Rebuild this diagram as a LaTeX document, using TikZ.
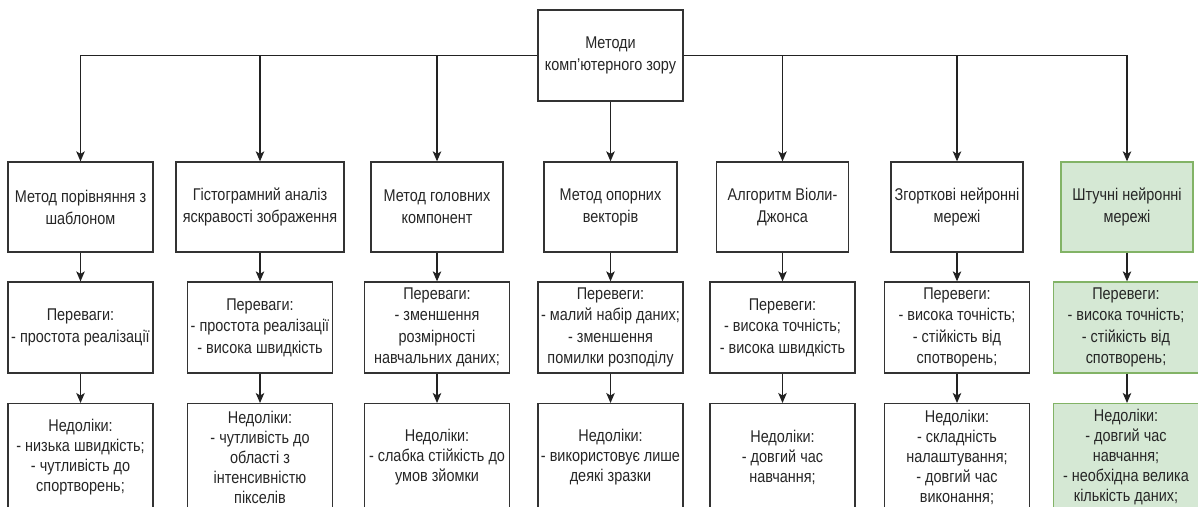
\documentclass[tikz,border=0pt]{standalone}
\usepackage{fontspec}
\setmainfont{Liberation Sans}[FakeStretch=0.85]
\usetikzlibrary{arrows.meta}
\definecolor{edgec}{HTML}{333333}
\definecolor{linec}{HTML}{222222}
\definecolor{txtc}{HTML}{262626}
\definecolor{greenfill}{HTML}{D5E8D4}
\definecolor{greenedge}{HTML}{82B366}
\tikzset{
  cell/.style={draw=edgec, line width=1.3pt, fill=white, inner sep=0pt,
    align=center, text=txtc},
  topcell/.style={cell, minimum height=91pt, font={\fontsize{17}{22}\selectfont}},
  midcell/.style={cell, minimum width=145pt, minimum height=91pt,
    font={\fontsize{17}{21.5}\selectfont}},
  lowcell/.style={cell, minimum width=145pt, minimum height=107pt, anchor=north,
    font={\fontsize{17}{20}\selectfont}},
  greencell/.style={fill=greenfill, draw=greenedge},
  link/.style={draw=linec, line width=1.2pt,
    -{Stealth[length=10pt,width=8.5pt,inset=2.5pt]}}
}
\begin{document}
\begin{tikzpicture}[x=1pt,y=-1pt]
\clip (0,0) rectangle (1198,506);
\fill[white] (0,0) rectangle (1198,506);

% root
\node[topcell, minimum width=145pt] (root) at (610.5,55.5) {Методи\\комп'ютерного зору};

% methods
\node[topcell, minimum width=145pt, minimum height=90pt] (m1) at (80.5,207) {Метод порівняння з\\шаблоном};
\node[topcell, minimum width=168pt, minimum height=90pt] (m2) at (260,207) {Гістограмний аналіз\\яскравості зображення};
\node[topcell, minimum width=132pt, minimum height=90pt] (m3) at (437,207) {Метод головних\\компонент};
\node[topcell, minimum width=133pt, minimum height=90pt] (m4) at (610.5,207) {Метод опорних\\векторів};
\node[topcell, minimum width=132pt, minimum height=90pt] (m5) at (782.5,207) {Алгоритм Віоли-\\Джонса};
\node[topcell, minimum width=132pt, minimum height=90pt] (m6) at (957,207) {Згорткові нейронні\\мережі};
\node[topcell, greencell, minimum width=132pt, minimum height=90pt] (m7) at (1127,207) {Штучні нейронні\\мережі};

% advantages
\node[midcell] (p1) at (80.5,327.5) {Переваги:\\- простота реалізації};
\node[midcell] (p2) at (260,327.5) {Переваги:\\- простота реалізації\\- висока швидкість};
\node[midcell] (p3) at (437,327.5) {Переваги:\\- зменшення\\розмірності\\навчальних даних;};
\node[midcell] (p4) at (610.5,327.5) {Перевеги:\\- малий набір даних;\\- зменшення\\помилки розподілу};
\node[midcell] (p5) at (782.5,327.5) {Перевеги:\\- висока точність;\\- висока швидкість};
\node[midcell] (p6) at (957,327.5) {Перевеги:\\- висока точність;\\- стійкість від\\спотворень;};
\node[midcell, greencell] (p7) at (1126,327.5) {Перевеги:\\- висока точність;\\- стійкість від\\спотворень;};

% drawbacks
\node[lowcell] (n1) at (80.5,403) {Недоліки:\\- низька швидкість;\\- чутливість до\\спортворень;};
\node[lowcell] (n2) at (260,403) {Недоліки:\\- чутливість до\\області з\\інтенсивністю\\пікселів};
\node[lowcell] (n3) at (437,403) {Недоліки:\\- слабка стійкість до\\умов зйомки};
\node[lowcell] (n4) at (610.5,403) {Недоліки:\\- використовує лише\\деякі зразки};
\node[lowcell] (n5) at (782.5,403) {Недоліки:\\- довгий час\\навчання;};
\node[lowcell] (n6) at (957,403) {Недоліки:\\- складність\\налаштування;\\- довгий час\\виконання;};
\node[lowcell, greencell] (n7) at (1126,403) {Недоліки:\\- довгий час\\навчання;\\- необхідна велика\\кількість даних;};

% branches from the root
\draw[link] (root.west) -| (m1.north);
\draw[link] (root.west) -| (m2.north);
\draw[link] (root.west) -| (m3.north);
\draw[link] (root.south) -- (m4.north);
\draw[link] (root.east) -| (m5.north);
\draw[link] (root.east) -| (m6.north);
\draw[link] (root.east) -| (m7.north);

% method -> advantages -> drawbacks
\foreach \i in {1,...,6}{
  \draw[link] (m\i.south) -- (p\i.north);
  \draw[link] (p\i.south) -- (n\i.north);
}
\draw[link] (m7.south) -- (m7.south |- p7.north);
\draw[link] (m7.south |- p7.south) -- (m7.south |- n7.north);
\end{tikzpicture}
\end{document}
